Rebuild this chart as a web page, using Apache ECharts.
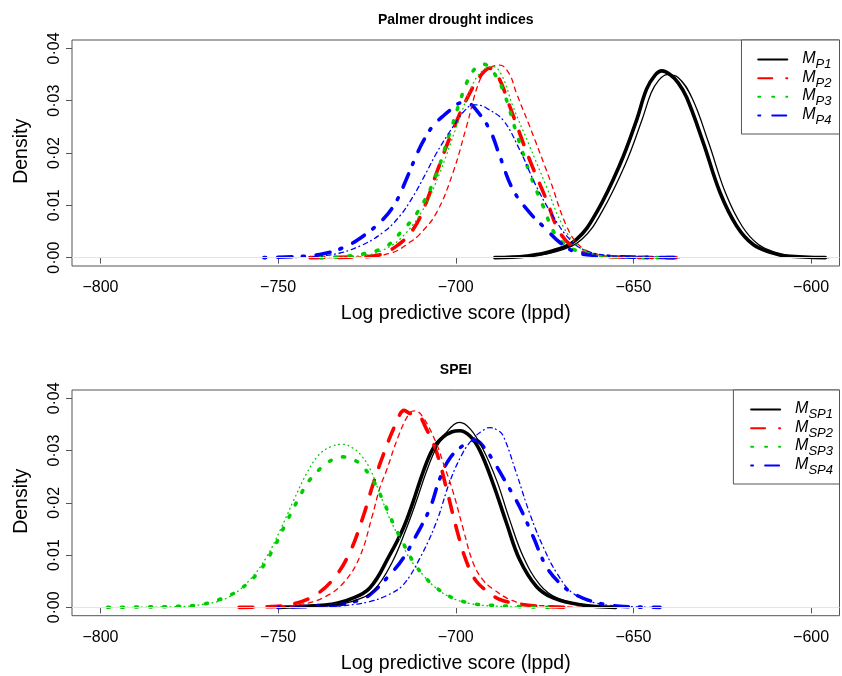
<!DOCTYPE html>
<html>
<head>
<meta charset="utf-8">
<script src="https://cdn.jsdelivr.net/npm/echarts@6/dist/echarts.min.js"></script>
<style>html,body{margin:0;padding:0;background:#fff}#c{width:842px;height:676px}</style>
</head>
<body>
<div id="c"></div>
<script>
// ---------- DATA (x = log predictive score, y = density) ----------
const xTicks = [-800, -750, -700, -650, -600];
const yTicks = [0, 0.01, 0.02, 0.03, 0.04];
const panelTitles = ['Palmer drought indices', 'SPEI'];
const xTitle = 'Log predictive score (lppd)';
const yTitle = 'Density';
const pdsiNames = ['P1', 'P2', 'P3', 'P4'];
const speiNames = ['SP1', 'SP2', 'SP3', 'SP4'];

// Palmer drought indices panel
const pdsiP1Thick = [[-689,0],[-680,0.0003],[-672.6,0.0013],[-666,0.0035],[-660.4,0.0086],[-653.8,0.0178],[-649.1,0.0263],[-646.3,0.0322],[-643.9,0.0349],[-642,0.0357],[-639.7,0.035],[-637.4,0.0334],[-635,0.0306],[-630.3,0.0219],[-625.6,0.0124],[-620.9,0.006],[-616.3,0.0025],[-611,0.0009],[-606.9,0.0003],[-596,0]];
const pdsiP1Thin = [[-689,0],[-679,0.0003],[-671,0.0013],[-664.5,0.0035],[-659,0.0086],[-652.3,0.0178],[-647.6,0.0263],[-645,0.0315],[-643,0.0338],[-640.5,0.035],[-637.5,0.0345],[-633.5,0.0305],[-628.8,0.0219],[-624.1,0.0124],[-619.4,0.006],[-614.8,0.0025],[-609.5,0.0009],[-605.4,0.0003],[-595,0]];
const pdsiP2Thick = [[-741,0],[-730,0.0001],[-722.4,0.0004],[-716.7,0.0022],[-712,0.0054],[-708.5,0.0102],[-705.4,0.0162],[-700.8,0.0244],[-696.1,0.0314],[-692.5,0.0352],[-690.5,0.0362],[-688,0.0345],[-684.8,0.0289],[-679.2,0.0187],[-674.5,0.0111],[-670.7,0.0048],[-666,0.0016],[-660,0.0004],[-652,0.0001],[-638,0]];
const pdsiP2Thin = [[-736,0],[-725,0.0002],[-717.7,0.001],[-713,0.0029],[-710.1,0.0045],[-705.4,0.0086],[-700.8,0.0162],[-697,0.025],[-693.2,0.034],[-690.5,0.0362],[-687.6,0.0368],[-685,0.0352],[-682.9,0.0314],[-679.2,0.0251],[-673.5,0.0149],[-668.8,0.006],[-665,0.0022],[-660,0.0006],[-652,0.0001],[-638,0]];
const pdsiP3Thick = [[-738,0],[-727,0.0006],[-719.5,0.0022],[-714.8,0.0054],[-711.5,0.0079],[-706.4,0.0143],[-701.7,0.0238],[-697,0.0333],[-694.5,0.0362],[-692.3,0.037],[-689.5,0.0355],[-686.7,0.032],[-682.9,0.0238],[-679.2,0.0162],[-675.4,0.0098],[-671.6,0.0041],[-666,0.0013],[-660,0.0004],[-652,0.0001],[-642,0]];
const pdsiP3Thin = [[-737,0],[-725,0.0005],[-720,0.0016],[-715,0.004],[-709.2,0.0092],[-704.5,0.0162],[-699.8,0.025],[-695.1,0.0333],[-692,0.036],[-689.5,0.0365],[-687,0.0348],[-683.9,0.0289],[-679.2,0.0213],[-674.5,0.0136],[-669.8,0.006],[-665,0.0019],[-660,0.0005],[-650,0.0001],[-640,0]];
const pdsiP4Thick = [[-754,0],[-745,0.0002],[-738.3,0.0006],[-731.7,0.0019],[-726.1,0.0041],[-720.5,0.0073],[-716.7,0.0108],[-713.9,0.015],[-710.6,0.0203],[-708.7,0.0228],[-706.4,0.0252],[-704,0.0268],[-700.8,0.0286],[-698.4,0.0296],[-696.5,0.0295],[-694.2,0.0282],[-690.4,0.0244],[-687.6,0.0194],[-683.9,0.013],[-679.2,0.0086],[-674.5,0.0054],[-670.7,0.0029],[-666,0.001],[-660,0.0004],[-650,0.0001],[-637,0]];
const pdsiP4Thin = [[-745,0],[-734.6,0.0006],[-727,0.0022],[-720.5,0.0048],[-715.8,0.0079],[-712,0.0117],[-708.5,0.016],[-705.4,0.02],[-700.8,0.025],[-697.5,0.0281],[-695.1,0.0292],[-693,0.0291],[-691.4,0.0286],[-686.7,0.0263],[-682,0.0206],[-677.3,0.0136],[-672.6,0.0079],[-667.9,0.0035],[-663.2,0.0013],[-655,0.0003],[-645,0.0001],[-637,0]];

// SPEI panel
const speiSP1Thick = [[-750,0],[-740,0.0003],[-735,0.0006],[-729.9,0.0015],[-724.2,0.0037],[-718.6,0.01],[-714.8,0.0151],[-712,0.0202],[-709.2,0.0259],[-706.4,0.0304],[-703.6,0.0326],[-701,0.0336],[-698.9,0.0338],[-696,0.0328],[-693.2,0.03],[-689.5,0.0237],[-685.7,0.0161],[-682,0.0091],[-677.3,0.004],[-672.6,0.0018],[-665,0.0005],[-655,0]];
const speiSP1Thin = [[-748,0],[-735,0.0004],[-728,0.0014],[-723,0.0033],[-718,0.0085],[-713.9,0.0151],[-711,0.0205],[-708.3,0.0259],[-705.5,0.0305],[-702.6,0.0335],[-700.5,0.035],[-698.9,0.0354],[-696,0.0342],[-692.5,0.0305],[-688.5,0.0243],[-684.8,0.0167],[-681,0.0097],[-676.3,0.0043],[-671.5,0.0018],[-664,0.0005],[-654,0]];
const speiSP2Thick = [[-761,0],[-753,0.0001],[-746.8,0.0005],[-740.2,0.0021],[-734.6,0.0053],[-729.9,0.0104],[-726.1,0.0173],[-723.3,0.0235],[-720.5,0.029],[-716.7,0.0354],[-714.5,0.0377],[-712.8,0.0371],[-711,0.037],[-708.3,0.0342],[-705.4,0.0297],[-702.6,0.0227],[-699.8,0.0151],[-697,0.0088],[-694.2,0.005],[-690,0.0025],[-687.6,0.0015],[-682,0.0006],[-676,0.0002],[-668,0]];
const speiSP2Thin = [[-752,0],[-744,0.0005],[-737.4,0.0018],[-731.7,0.0046],[-727,0.0097],[-723.5,0.0175],[-721.4,0.0228],[-719.5,0.0262],[-716,0.033],[-713,0.0372],[-711.5,0.0376],[-709.2,0.0364],[-705.4,0.0313],[-703.6,0.0278],[-700.8,0.0222],[-697.9,0.015],[-695.1,0.0085],[-692.3,0.0052],[-689.5,0.0035],[-684.8,0.0015],[-680,0.0006],[-672,0.0002],[-665,0]];
const speiSP3Thick = [[-798,0],[-785,0.0001],[-778,0.0002],[-772,0.0005],[-766.5,0.0015],[-760.8,0.0034],[-755.3,0.0069],[-751.5,0.011],[-747.8,0.0161],[-744,0.0211],[-741.2,0.0243],[-736.5,0.0275],[-733.5,0.0286],[-731.7,0.0288],[-729.5,0.0284],[-727,0.0275],[-723.3,0.0243],[-720.5,0.0205],[-717.6,0.0161],[-714.8,0.0123],[-712,0.0088],[-709.2,0.0062],[-705.4,0.0037],[-700.8,0.0018],[-695.1,0.0007],[-690,0.0004],[-680,0.0001],[-672,0]];
const speiSP3Thin = [[-795,0],[-780,0.0001],[-770,0.0007],[-763.5,0.0021],[-757.9,0.0053],[-753.2,0.0097],[-749.4,0.0148],[-745.6,0.0205],[-742,0.0256],[-738.5,0.0292],[-735,0.0308],[-731.7,0.0312],[-729,0.0305],[-727,0.0294],[-724.2,0.0266],[-721.4,0.0218],[-718.6,0.017],[-715.8,0.0132],[-713,0.0094],[-709.2,0.0062],[-705.4,0.0036],[-700.8,0.0017],[-695,0.0006],[-688,0.0002],[-678,0]];
const speiSP4Thick = [[-750,0],[-740,0.0002],[-732.7,0.0005],[-728,0.0012],[-724.2,0.0024],[-718.6,0.0062],[-714.8,0.0094],[-711.1,0.0138],[-707.3,0.0189],[-704.5,0.0246],[-701.7,0.0285],[-697.9,0.031],[-694.6,0.032],[-692,0.0306],[-689.5,0.0281],[-685.7,0.0237],[-682,0.0192],[-678.2,0.0135],[-674.5,0.0078],[-670.7,0.0046],[-667,0.0027],[-661.4,0.0011],[-653.8,0.0002],[-642.5,0]];
const speiSP4Thin = [[-740,0],[-732,0.0003],[-724.2,0.0011],[-719,0.0024],[-714.8,0.0043],[-710.1,0.0094],[-705.4,0.0164],[-701.7,0.024],[-697.9,0.0297],[-695.1,0.0323],[-692.5,0.0338],[-690.4,0.0344],[-688.5,0.034],[-686.7,0.0329],[-682.9,0.0256],[-679.2,0.018],[-675.4,0.0116],[-671.6,0.0066],[-667,0.0027],[-660.4,0.0008],[-652,0.0002],[-645,0]];

// ---------- STYLE ----------
const FONT = '"Liberation Sans", Arial, Helvetica, sans-serif';
const COLORS = ['#000000', '#ff0000', '#00cd00', '#0000ff'];
const THICK = 3.6, THIN = 1.3;
const DASH_THICK = ['solid', [14, 14], [2, 12], [2, 12, 14, 10.5]];
const DASH_THIN = ['solid', [4.7, 4.7], [0.8, 3.9], [0.8, 3.9, 4.7, 3.5]];
const AXIS_COLOR = '#555';

const panels = [
  { names: pdsiNames, thick: [pdsiP1Thick, pdsiP2Thick, pdsiP3Thick, pdsiP4Thick], thin: [pdsiP1Thin, pdsiP2Thin, pdsiP3Thin, pdsiP4Thin] },
  { names: speiNames, thick: [speiSP1Thick, speiSP2Thick, speiSP3Thick, speiSP4Thick], thin: [speiSP1Thin, speiSP2Thin, speiSP3Thin, speiSP4Thin] }
];

const grids = [
  { left: 72, top: 40, width: 767.5, height: 226 },
  { left: 72, top: 390, width: 767.5, height: 225.7 }
];

function curve(name, data, color, width, dash, idx, zero) {
  const s = {
    type: 'line', name: name, data: data, xAxisIndex: idx, yAxisIndex: idx,
    smooth: 0.4, symbol: 'none', showSymbol: false, silent: true,
    lineStyle: { color: color, width: width, type: dash, cap: 'round', join: 'round' },
    itemStyle: { color: color },
    emphasis: { disabled: true }, animation: false
  };
  if (zero) {
    s.markLine = {
      silent: true, symbol: 'none', animation: false, label: { show: false },
      lineStyle: { color: '#e4e4e4', width: 1, type: 'solid' },
      data: [{ yAxis: 0 }]
    };
  }
  return s;
}

const series = [];
panels.forEach((p, idx) => {
  for (let k = 0; k < 4; k++) {
    series.push(curve(p.names[k], p.thick[k], COLORS[k], THICK, DASH_THICK[k], idx, k === 0));
  }
  for (let k = 0; k < 4; k++) {
    series.push(curve(p.names[k], p.thin[k], COLORS[k], THIN, DASH_THIN[k], idx, false));
  }
});

const xAxes = grids.map((g, i) => ({
  type: 'value', gridIndex: i, min: -808, max: -592,
  axisLine: { show: false },
  splitLine: { show: false },
  axisTick: { show: true, inside: false, length: 6, customValues: xTicks, lineStyle: { color: AXIS_COLOR, width: 1 } },
  axisLabel: {
    show: true, customValues: xTicks, margin: 13.5, color: '#000', fontSize: 16, fontFamily: FONT,
    formatter: v => (v < 0 ? '\u2212' : '') + Math.abs(v)
  }
}));
const yAxes = grids.map((g, i) => ({
  type: 'value', gridIndex: i, min: -0.0016, max: 0.0416,
  axisLine: { show: false },
  splitLine: { show: false },
  axisTick: { show: true, inside: false, length: 6, customValues: yTicks, lineStyle: { color: AXIS_COLOR, width: 1 } },
  axisLabel: {
    show: true, customValues: yTicks, margin: 9.5, rotate: 90, color: '#000', fontSize: 16, fontFamily: FONT,
    formatter: v => v.toFixed(2).replace('.', '\u00b7')
  }
}));

function legendFor(names, top, padding) {
  return {
    data: names, orient: 'vertical', right: 2.5, top: top,
    itemWidth: 29, itemHeight: 14, itemGap: -4.33,
    padding: padding, borderColor: AXIS_COLOR, borderWidth: 1, borderRadius: 0,
    backgroundColor: '#fff', selectedMode: false,
    itemStyle: { opacity: 0, borderWidth: 0 },
    formatter: n => '{m|M}{s|' + n + '}',
    textStyle: {
      color: '#000', fontFamily: FONT,
      rich: {
        m: { fontSize: 16, fontStyle: 'italic', fontFamily: FONT, lineHeight: 14, verticalAlign: 'middle', padding: [0, 0, 2, 10] },
        s: { fontSize: 13, fontStyle: 'italic', fontFamily: FONT, lineHeight: 14, verticalAlign: 'middle', padding: [10, 0, 0, 0] }
      }
    }
  };
}

const graphics = [];
grids.forEach((g, i) => {
  const cx = g.left + g.width / 2;
  const dy = i * 350;
  graphics.push({ type: 'text', x: cx, y: 20 + dy, silent: true,
    style: { text: panelTitles[i], font: 'bold 14px ' + FONT, fill: '#000', textAlign: 'center', textVerticalAlign: 'middle' } });
  graphics.push({ type: 'text', x: cx, y: 314 + dy, silent: true,
    style: { text: xTitle, font: '19.5px ' + FONT, fill: '#000', textAlign: 'center', textVerticalAlign: 'middle' } });
  graphics.push({ type: 'text', x: 22, y: 151.3 + dy, rotation: Math.PI / 2, silent: true,
    style: { text: yTitle, font: '19.5px ' + FONT, fill: '#000', textAlign: 'center', textVerticalAlign: 'middle' } });
});

const chart = echarts.init(document.getElementById('c'), null, { renderer: 'canvas', width: 842, height: 676 });
chart.setOption({
  animation: false,
  backgroundColor: '#fff',
  grid: grids.map(g => Object.assign({ show: true, borderColor: AXIS_COLOR, borderWidth: 1, backgroundColor: 'transparent', containLabel: false }, g)),
  xAxis: xAxes,
  yAxis: yAxes,
  legend: [legendFor(pdsiNames, 40, [8, 8, 7, 15.8]), legendFor(speiNames, 390, [8, 6.5, 7, 16.7])],
  series: series,
  graphic: graphics
});
</script>
</body>
</html>
